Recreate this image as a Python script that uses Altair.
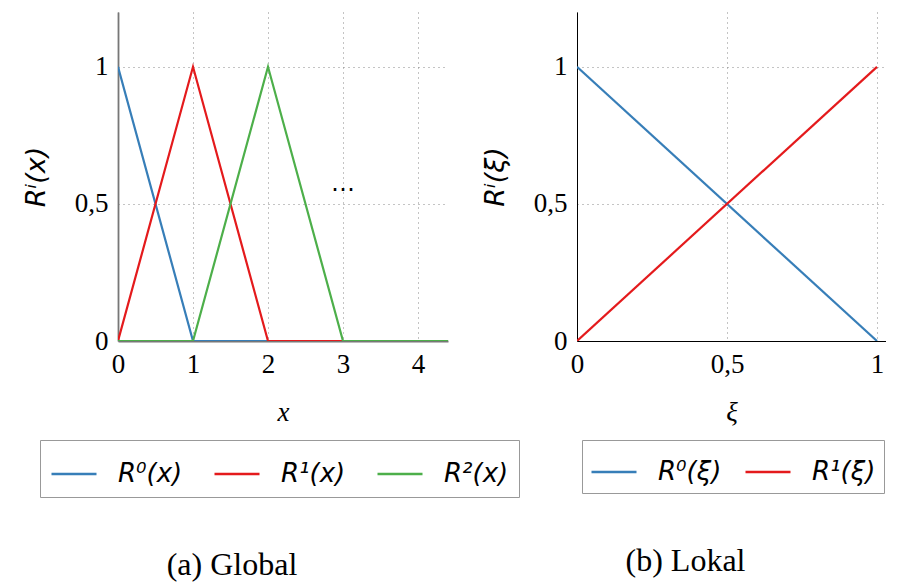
import altair as alt
import pandas as pd

# ---- data ----
left_names = ["R⁰(x)", "R¹(x)", "R²(x)"]
left_colors = ["#377eb8", "#e41a1c", "#4daf4a"]
r0_x = [0, 1, 2]
r0_y = [1, 0, 0]
r1_x = [0, 1, 2, 3]
r1_y = [0, 1, 0, 0]
r2_x = [0, 1, 2, 3, 4.4]
r2_y = [0, 0, 1, 0, 0]

right_names = ["R⁰(ξ)", "R¹(ξ)"]
right_colors = ["#377eb8", "#e41a1c"]
xi_vals = [0, 1]
l0_y = [1, 0]
l1_y = [0, 1]

dots_x = [3]
dots_y = [0.55]
dots_text = ["⋯"]

left_xticks = [0, 1, 2, 3, 4]
right_xticks = [0, 0.5, 1]
yticks = [0, 0.5, 1]

F_LAB = "Liberation Serif"
F_TIT = "Liberation Serif"
F_LEG = "DejaVu Sans"
FS = 27

rows = []
for name, xs, ys in zip(left_names, [r0_x, r1_x, r2_x], [r0_y, r1_y, r2_y]):
    for i, (a, b) in enumerate(zip(xs, ys)):
        rows.append({"series": name, "x": a, "y": b, "idx": i})
df_left = pd.DataFrame(rows)

rows = []
for name, ys in zip(right_names, [l0_y, l1_y]):
    for i, (a, b) in enumerate(zip(xi_vals, ys)):
        rows.append({"series": name, "x": a, "y": b, "idx": i})
df_right = pd.DataFrame(rows)

df_dots = pd.DataFrame({"x": dots_x, "y": dots_y, "t": dots_text})

label_expr = "replace(toString(datum.value), '.', ',')"


def axis(values, title, domain_color, domain_width, title_pad, title_font):
    return alt.Axis(
        values=values, title=title, grid=True, gridDash=[1, 4], gridColor="#888",
        gridWidth=1, tickSize=0, labelPadding=10, labelFont=F_LAB, labelFontSize=FS,
        labelColor="black", labelExpr=label_expr, titleFont=title_font, titleFontSize=FS,
        titleFontStyle="italic", titleFontWeight="normal", titleColor="black",
        titlePadding=title_pad, domainColor=domain_color, domainWidth=domain_width,
        labelFlush=False, labelOverlap=False,
    )


def legend(x, y, ncol, colpad, pad):
    return alt.Legend(
        title=None, orient="none", legendX=x, legendY=y, direction="horizontal",
        columns=ncol, symbolType="stroke", symbolSize=2025, symbolStrokeWidth=2.5,
        labelFont=F_LEG, labelFontSize=26, labelFontStyle="italic", labelColor="black",
        labelOffset=20, columnPadding=colpad, padding=pad, strokeColor="#999",
        fillColor="white", labelLimit=0, symbolOffset=0,
    )


left_lines = alt.Chart(df_left).mark_line(strokeWidth=2.2, clip=True).encode(
    x=alt.X("x:Q", scale=alt.Scale(domain=[0, 4.4], nice=False, zero=False),
            axis=axis(left_xticks, "x", "#777", 1.8, 22, F_TIT)),
    y=alt.Y("y:Q", scale=alt.Scale(domain=[0, 1.2], nice=False),
            axis=axis(yticks, "Rⁱ(x)", "#777", 1.8, 24, F_LEG)),
    color=alt.Color("series:N", sort=left_names,
                    scale=alt.Scale(domain=left_names, range=left_colors),
                    legend=legend(-78, 428, 3, 26, 10)),
    order="idx:Q",
)
left_dots = alt.Chart(df_dots).mark_text(font="DejaVu Sans", fontSize=24, baseline="middle").encode(
    x="x:Q", y="y:Q", text="t:N"
)
left = alt.layer(left_lines, left_dots).properties(
    width=330, height=329,
    title=alt.TitleParams("(a) Global", orient="bottom", anchor="middle", font=F_TIT,
                          fontSize=32, fontWeight="normal", color="black", offset=52, dx=-51),
)

right = alt.Chart(df_right).mark_line(strokeWidth=2.2, clip=True).encode(
    x=alt.X("x:Q", scale=alt.Scale(domain=[0, 1.03], nice=False, zero=False),
            axis=axis(right_xticks, "ξ", "black", 1, 22, F_TIT)),
    y=alt.Y("y:Q", scale=alt.Scale(domain=[0, 1.2], nice=False),
            axis=axis(yticks, "Rⁱ(ξ)", "black", 1, 24, F_LEG)),
    color=alt.Color("series:N", sort=right_names,
                    scale=alt.Scale(domain=right_names, range=right_colors),
                    legend=legend(5, 428, 2, 18, 8)),
    order="idx:Q",
).properties(
    width=309, height=329,
    title=alt.TitleParams("(b) Lokal", orient="bottom", anchor="middle", font=F_TIT,
                          fontSize=32, fontWeight="normal", color="black", offset=52, dx=-46),
)

chart = alt.hconcat(left, right, spacing=129, bounds="flush").resolve_scale(
    color="independent"
).configure(
    padding={"left": 14, "top": 4, "right": 0, "bottom": 4},
    background="white",
).configure_view(stroke=None)

chart.save("out.html", embed_options={"renderer": "svg", "actions": False})
